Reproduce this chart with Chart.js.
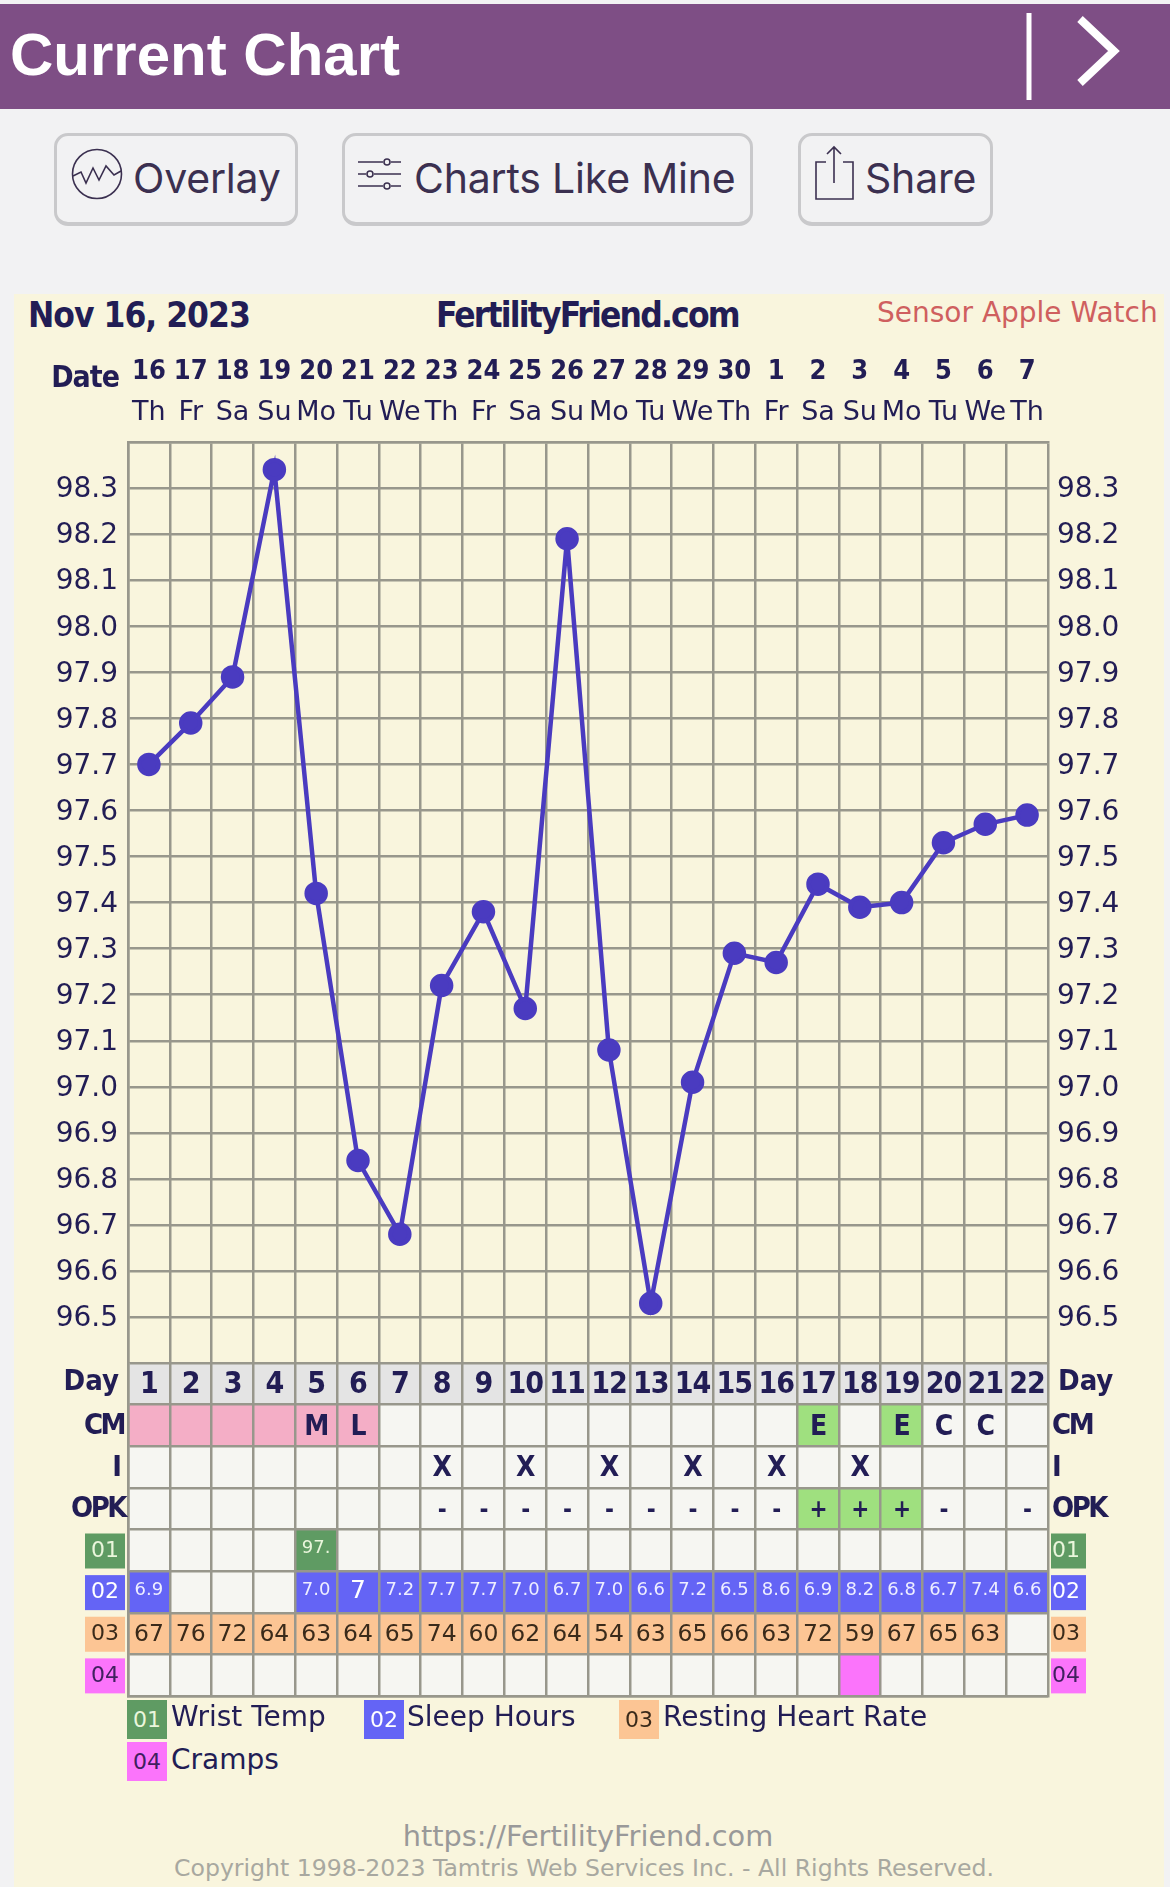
<!DOCTYPE html>
<html>
<head>
<meta charset="utf-8">
<title>Current Chart</title>
<script src="https://cdn.jsdelivr.net/npm/chart.js@4"></script>
<style>
  html, body { margin: 0; padding: 0; }
  body { position: relative; width: 1170px; height: 1887px; background: #f2f2f3; overflow: hidden; color: #221d55; font-family: "DejaVu Sans", sans-serif; }
  .abs { position: absolute; white-space: nowrap; }
  canvas { position: absolute; left: 0; }
  #header { position: absolute; left: 0; top: 4px; width: 1170px; height: 105px; background: #7e4e85; }
  #title { left: 10px; top: 20px; font: bold 60px "Liberation Sans", sans-serif; color: #fff; }
  .btn { position: absolute; top: 133px; height: 93px; box-sizing: border-box; border: 3px solid #c9c9cb; border-bottom-width: 4px; border-radius: 14px; }
  .btnText { top: 153px; font: 41px Inter, sans-serif; color: #3b3050; letter-spacing: -0.2px; }
  #panel { position: absolute; left: 14px; top: 294px; width: 1150px; height: 1593px; background: #f9f5dd; }
  .bold { font-family: "DejaVu Sans Condensed", "DejaVu Sans", sans-serif; font-weight: bold; letter-spacing: -1px; }
  .leg { position: absolute; width: 40px; height: 39px; font: 22px/39px "DejaVu Sans", sans-serif; text-align: center; }
  .legText { font: 28px "DejaVu Sans", sans-serif; color: #221d55; }
  .foot { width: 1170px; left: 0; text-align: center; white-space: nowrap; position: absolute; }
</style>
</head>
<body>
<div id="header"></div>
<div class="abs" id="title">Current Chart</div>
<svg class="abs" style="left:0;top:0" width="1170" height="110" fill="none" stroke="#fff">
  <path d="M1029 13V100" stroke-width="5"/>
  <path d="M1080 19L1114 51L1080 83" stroke-width="8"/>
</svg>

<div class="btn" style="left:54px;width:244px"></div>
<svg class="abs" style="left:70px;top:147px" width="54" height="54" fill="none" stroke="#3b3050" stroke-width="1.6">
  <circle cx="27" cy="27" r="24.5"/>
  <path d="M3 29L11 25L16 36L23 21L29 33L36 19L44 28L51 24"/>
</svg>
<div class="abs btnText" style="left:133px">Overlay</div>

<div class="btn" style="left:342px;width:411px"></div>
<svg class="abs" style="left:356px;top:156px" width="48" height="36" fill="none" stroke="#3b3050" stroke-width="1.6">
  <path d="M2 6H27M35 6H45M2 18H10M18 18H45M2 30H27M35 30H45"/>
  <circle cx="31" cy="6" r="3"/><circle cx="14" cy="18" r="3"/><circle cx="31" cy="30" r="3"/>
</svg>
<div class="abs btnText" style="left:414px">Charts Like Mine</div>

<div class="btn" style="left:798px;width:195px"></div>
<svg class="abs" style="left:812px;top:143px" width="44" height="60" fill="none" stroke="#3b3050" stroke-width="1.6">
  <path d="M14 19H4V56H41V19H31"/>
  <path d="M22 40V4M15 11L22 4L29 11"/>
</svg>
<div class="abs btnText" style="left:865px">Share</div>

<div id="panel"></div>
<div class="abs bold" style="left:28px;top:295px;font-size:35px">Nov 16, 2023</div>
<div class="abs bold" style="left:436px;top:295px;font-size:35px;letter-spacing:-1.8px">FertilityFriend.com</div>
<div class="abs" style="left:877px;top:296px;font:28px 'DejaVu Sans',sans-serif;color:#cf5f5f">Sensor Apple Watch</div>

<canvas id="tempChart" width="1170" height="1050" style="top:340px"></canvas>
<canvas id="tableChart" width="1170" height="350" style="top:1358px"></canvas>

<div class="leg" style="left:127px;top:1700px;background:#5f9b63;color:#eaf6dc">01</div>
<div class="abs legText" style="left:171px;top:1700px">Wrist Temp</div>
<div class="leg" style="left:364px;top:1700px;background:#6464f5;color:#fff">02</div>
<div class="abs legText" style="left:407px;top:1700px">Sleep Hours</div>
<div class="leg" style="left:619px;top:1700px;background:#fcc594;color:#3a2a1a">03</div>
<div class="abs legText" style="left:663px;top:1700px">Resting Heart Rate</div>
<div class="leg" style="left:127px;top:1742px;background:#fb74fb;color:#40205f">04</div>
<div class="abs legText" style="left:171px;top:1743px">Cramps</div>

<div class="foot" style="left:3px;top:1819px;font-size:28.8px;color:#999">https://FertilityFriend.com</div>
<div class="foot" style="left:-1px;top:1854px;font-size:23.6px;color:#a8a8a0">Copyright 1998-2023 Tamtris Web Services Inc. - All Rights Reserved.</div>

<script>
const dates = ["16","17","18","19","20","21","22","23","24","25","26","27","28","29","30","1","2","3","4","5","6","7"];
const weekdays = ["Th","Fr","Sa","Su","Mo","Tu","We","Th","Fr","Sa","Su","Mo","Tu","We","Th","Fr","Sa","Su","Mo","Tu","We","Th"];
const cycleDays = ["1","2","3","4","5","6","7","8","9","10","11","12","13","14","15","16","17","18","19","20","21","22"];
const temps = [97.70,97.79,97.89,98.34,97.42,96.84,96.68,97.22,97.38,97.17,98.19,97.08,96.53,97.01,97.29,97.27,97.44,97.39,97.40,97.53,97.57,97.59];

const cm = ["","","","","M","L","","","","","","","","","","","E","","E","C","C",""];
const intercourse = ["","","","","","","","X","","X","","X","","X","","X","","X","","","",""];
const opk = ["","","","","","","","-","-","-","-","-","-","-","-","-","+","+","+","-","","-"];
const wristTemp = ["","","","","97.","","","","","","","","","","","","","","","","",""];
const sleepHours = ["6.9","","","","7.0","7","7.2","7.7","7.7","7.0","6.7","7.0","6.6","7.2","6.5","8.6","6.9","8.2","6.8","6.7","7.4","6.6"];
const heartRate = ["67","76","72","64","63","64","65","74","60","62","64","54","63","65","66","63","72","59","67","65","63",""];
const cramps = ["","","","","","","","","","","","","","","","","","x","","","",""];
const menstrualDays = ["1","2","3","4","5","6"];

const rowLabels = ["Day","CM","I","OPK","01","02","03","04"];

const navy = "#221d55";
const boldFont = '"DejaVu Sans Condensed", "DejaVu Sans", sans-serif';
const gridColor = "#98978c";

function label(ctx, text, x, y, font, color, align) {
    ctx.font = font;
    ctx.fillStyle = color;
    ctx.textAlign = align || "center";
    ctx.textBaseline = "middle";
    ctx.fillText(text, x, y);
}

const dateLabelPlugin = {
    id: "dateLabel",
    afterDraw: (chart) => {
        const { ctx } = chart;
        ctx.save();
        ctx.letterSpacing = "-1px";
        label(ctx, "Date", 119, 39, "bold 30px " + boldFont, navy, "right");
        ctx.restore();
    },
};

new Chart(document.getElementById("tempChart"), {
    type: "line",
    data: {
        labels: weekdays,
        datasets: [
            {
                data: temps,
                borderColor: "#4a3bc0",
                backgroundColor: "#4a3bc0",
                borderWidth: 4.5,
                pointRadius: 9.5,
                tension: 0,
                clip: false,
            },
        ],
    },
    options: {
        responsive: false,
        maintainAspectRatio: false,
        animation: false,
        layout: { autoPadding: false, padding: { top: 0, bottom: 8, left: 0, right: 0 } },
        plugins: { legend: false, tooltip: { enabled: false } },
        scales: {
            x: {
                position: "top",
                offset: true,
                weight: 0,
                afterFit: (scale) => { scale.height = 51; },
                grid: { color: gridColor, lineWidth: 2.5, offset: true, drawTicks: false },
                border: { color: gridColor, width: 2.5 },
                ticks: {
                    autoSkip: false,
                    maxRotation: 0,
                    padding: 13,
                    color: navy,
                    font: { family: "DejaVu Sans", size: 27 },
                },
            },
            xDate: {
                type: "category",
                labels: dates,
                position: "top",
                offset: true,
                weight: 1,
                afterFit: (scale) => { scale.height = 51; },
                grid: { display: false, drawTicks: false },
                border: { display: false },
                ticks: {
                    autoSkip: false,
                    maxRotation: 0,
                    padding: 3,
                    color: navy,
                    font: { family: "DejaVu Sans Condensed", size: 27, weight: "bold" },
                },
            },
            y: {
                min: 96.4,
                max: 98.4,
                afterFit: (scale) => { scale.width = 128; },
                grid: { color: gridColor, lineWidth: 2.5, drawTicks: false },
                border: { color: gridColor, width: 2.5 },
                ticks: {
                    stepSize: 0.1,
                    padding: 10,
                    labelOffset: 2,
                    color: navy,
                    font: { family: "DejaVu Sans", size: 28 },
                    callback: (v) => (v < 96.45 || v > 98.35 ? "" : v.toFixed(1)),
                },
            },
            y2: {
                position: "right",
                min: 96.4,
                max: 98.4,
                afterFit: (scale) => { scale.width = 122; },
                grid: { display: false, drawTicks: false },
                border: { display: false },
                ticks: {
                    stepSize: 0.1,
                    padding: 9,
                    labelOffset: 2,
                    color: navy,
                    font: { family: "DejaVu Sans", size: 28 },
                    callback: (v) => (v < 96.45 || v > 98.35 ? "" : v.toFixed(1)),
                },
            },
        },
    },
    plugins: [dateLabelPlugin],
});

// table under the chart: one floating bar dataset per row, same x layout as above
const pink = "#f4aec6";
const green = "#9fe07f";

const rowFills = [
    cycleDays.map(() => "#e4e4e4"),
    cycleDays.map((d, i) => (menstrualDays.includes(d) ? pink : cm[i] === "E" ? green : null)),
    cycleDays.map(() => null),
    opk.map((v) => (v === "+" ? green : null)),
    wristTemp.map((v) => (v ? "#5f9b63" : null)),
    sleepHours.map((v) => (v ? "#6464f5" : null)),
    heartRate.map((v) => (v ? "#fcc594" : null)),
    cramps.map((v) => (v ? "#fb74fb" : null)),
];

const rowDatasets = rowFills.map((fills, r) => ({
    data: fills.map((f) => (f ? [r, r + 1] : null)),
    backgroundColor: fills,
    borderWidth: 0,
    barPercentage: 1,
    categoryPercentage: 1,
    grouped: false,
}));

const badgeColors = { "01": ["#5f9b63", "#eaf6dc"], "02": ["#6464f5", "#fff"], "03": ["#fcc594", "#3a2a1a"], "04": ["#fb74fb", "#40205f"] };
const labelEnds = { Day: [119, 1058, 0], CM: [124, 1052, -2.5], I: [122, 1052, 0], OPK: [125, 1052, -2.5] };

const tableTextPlugin = {
    id: "tableText",
    beforeDraw: (chart) => {
        const { ctx, chartArea: a } = chart;
        ctx.save();
        ctx.fillStyle = "#f6f6f2";
        ctx.fillRect(a.left, a.top, a.width, a.height);
        ctx.restore();
    },
    afterDraw: (chart) => {
        const { ctx, scales: { x, y } } = chart;
        const midY = (r) => y.getPixelForValue(r + 0.5);
        ctx.save();

        const boldRows = { 0: cycleDays, 1: cm, 2: intercourse, 3: opk };
        ctx.letterSpacing = "-1px";
        Object.keys(boldRows).forEach((r) => {
            boldRows[r].forEach((v, i) => {
                if (!v) return;
                const size = r == 3 ? 24 : r == 0 ? 30 : 28;
                label(ctx, v, x.getPixelForValue(i), midY(+r) + (r == 0 ? 1 : 2), "bold " + size + "px " + boldFont, navy);
            });
        });
        ctx.letterSpacing = "0px";

        wristTemp.forEach((v, i) => {
            if (v) label(ctx, v, x.getPixelForValue(i), midY(4) - 2, '18px "DejaVu Sans"', "#eaf6dc");
        });
        sleepHours.forEach((v, i) => {
            if (!v) return;
            if (v.includes(".")) label(ctx, v, x.getPixelForValue(i), midY(5) - 2, '18px "DejaVu Sans"', "#eef");
            else label(ctx, v, x.getPixelForValue(i), midY(5), '25px "DejaVu Sans"', "#fff");
        });
        heartRate.forEach((v, i) => {
            if (v) label(ctx, v, x.getPixelForValue(i), midY(6) + 1, '23.5px "DejaVu Sans"', "#3a2a1a");
        });

        rowLabels.forEach((t, r) => {
            if (badgeColors[t]) {
                const [bg, fg] = badgeColors[t];
                const top = y.getPixelForValue(r) + 4;
                const h = 35;
                ctx.fillStyle = bg;
                ctx.fillRect(85, top, 40, h);
                ctx.fillRect(1051, top, 35, h);
                label(ctx, t, 105, top + h / 2, '22px "DejaVu Sans"', fg);
                label(ctx, t, 1052, top + h / 2, '22px "DejaVu Sans"', fg, "left");
            } else {
                const [leftEnd, rightStart, spacing] = labelEnds[t];
                const shift = t === "Day" ? -1 : 1;
                ctx.letterSpacing = spacing + "px";
                label(ctx, t, leftEnd, midY(r) + shift, "bold 29px " + boldFont, navy, "right");
                label(ctx, t, rightStart, midY(r) + shift, "bold 29px " + boldFont, navy, "left");
                ctx.letterSpacing = "0px";
            }
        });
        ctx.restore();
    },
};

new Chart(document.getElementById("tableChart"), {
    type: "bar",
    data: { labels: cycleDays, datasets: rowDatasets },
    options: {
        responsive: false,
        animation: false,
        layout: { autoPadding: false, padding: { top: 5, bottom: 12, left: 0, right: 122 } },
        plugins: { legend: false, tooltip: { enabled: false } },
        scales: {
            x: {
                afterFit: (scale) => { scale.height = 0; },
                grid: { color: gridColor, lineWidth: 2.5, offset: true, drawTicks: false, z: 1 },
                border: { color: gridColor, width: 2.5, z: 1 },
                ticks: { display: false },
            },
            y: {
                min: 0,
                max: rowLabels.length,
                reverse: true,
                afterFit: (scale) => { scale.width = 128; },
                grid: { color: gridColor, lineWidth: 2.5, drawTicks: false, z: 1 },
                border: { color: gridColor, width: 2.5, z: 1 },
                ticks: { display: false, stepSize: 1 },
            },
        },
    },
    plugins: [tableTextPlugin],
});
</script>
</body>
</html>
